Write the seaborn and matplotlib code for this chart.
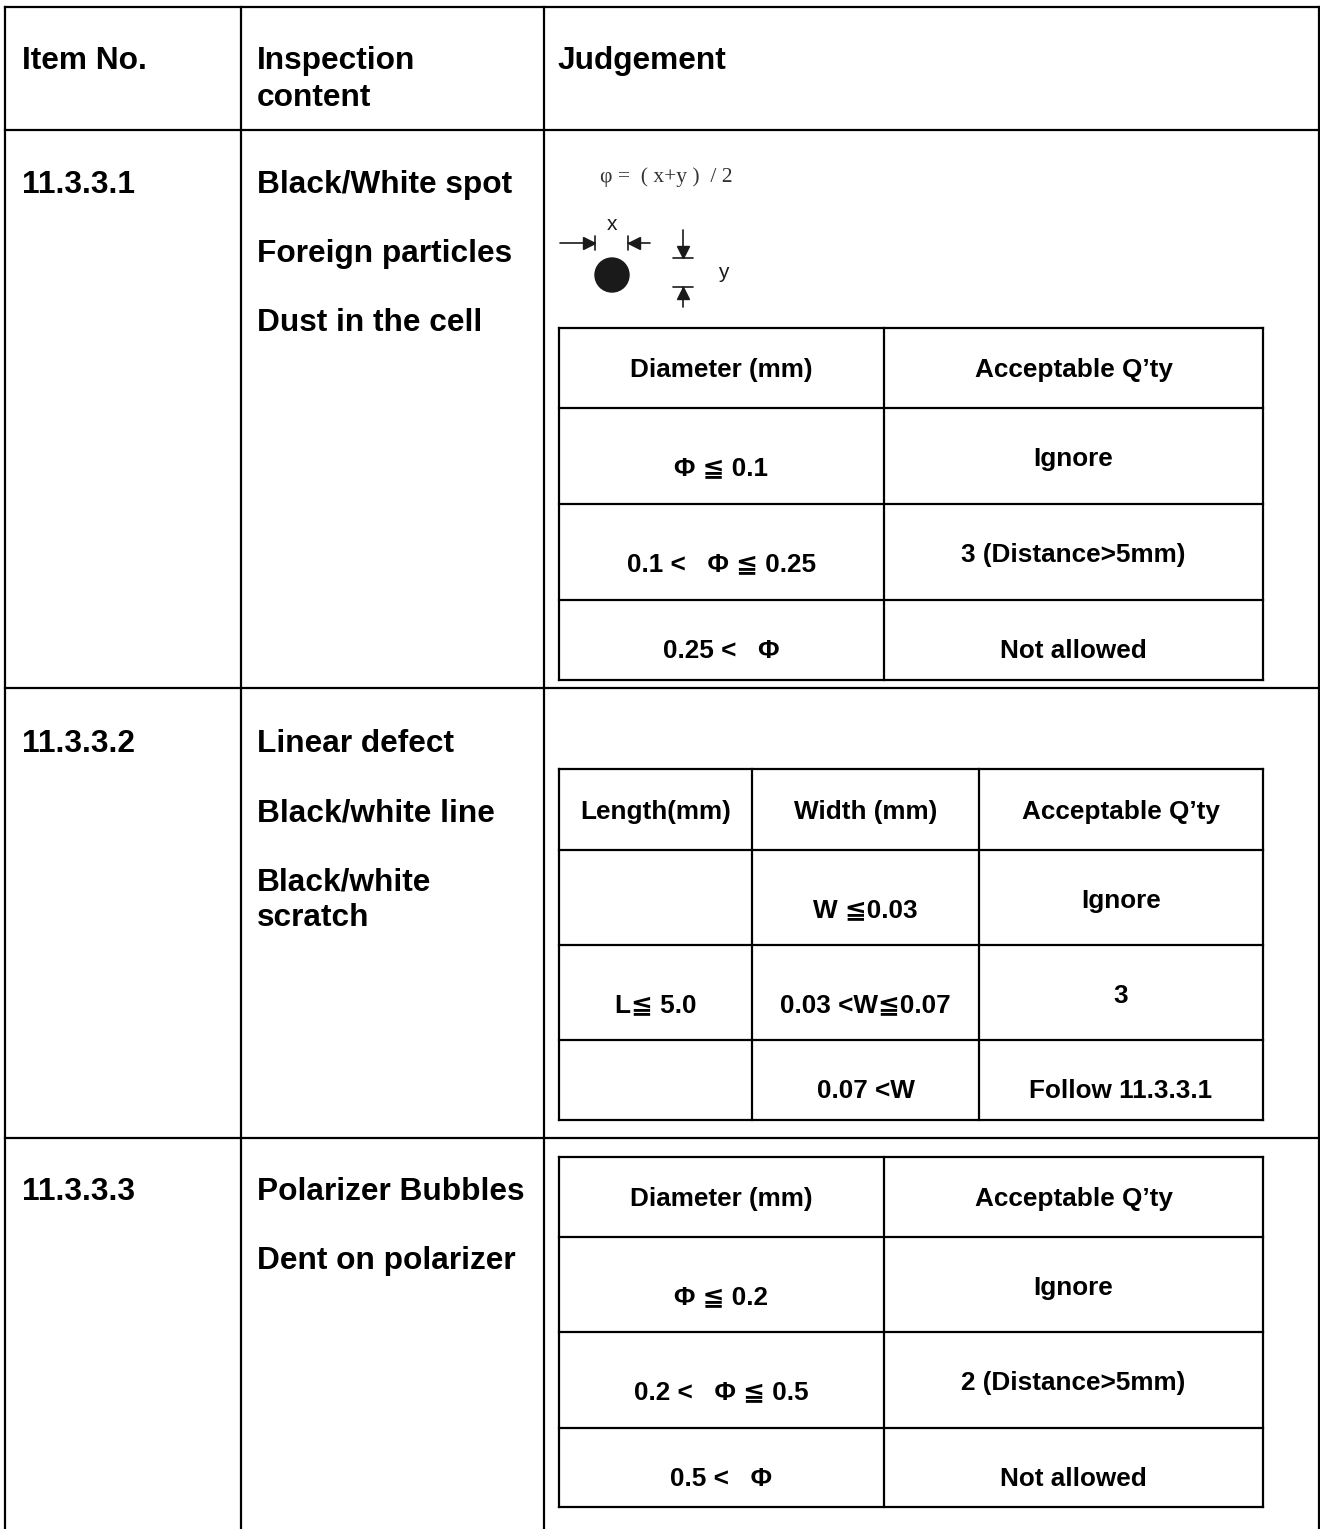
import matplotlib.pyplot as plt
import seaborn as sns
from matplotlib.patches import Circle

# table content
header_labels = ['Item No.', 'Inspection\ncontent', 'Judgement']
item_numbers = ['11.3.3.1', '11.3.3.2', '11.3.3.3']
inspection_lines = [
    ['Black/White spot', 'Foreign particles', 'Dust in the cell'],
    ['Linear defect', 'Black/white line', 'Black/white\nscratch'],
    ['Polarizer Bubbles', 'Dent on polarizer'],
]
formula = 'φ =  ( x+y )  / 2'

spot_header = ['Diameter (mm)', 'Acceptable Q’ty']
spot_diameter = ['Φ ≦ 0.1', '0.1 <   Φ ≦ 0.25', '0.25 <   Φ']
spot_qty = ['Ignore', '3 (Distance>5mm)', 'Not allowed']

line_header = ['Length(mm)', 'Width (mm)', 'Acceptable Q’ty']
line_length = ['', 'L≦ 5.0', '']
line_width = ['W ≦0.03', '0.03 <W≦0.07', '0.07 <W']
line_qty = ['Ignore', '3', 'Follow 11.3.3.1']

bubble_header = ['Diameter (mm)', 'Acceptable Q’ty']
bubble_diameter = ['Φ ≦ 0.2', '0.2 <   Φ ≦ 0.5', '0.5 <   Φ']
bubble_qty = ['Ignore', '2 (Distance>5mm)', 'Not allowed']

# layout (pixel grid of the page)
W, H = 1320, 1529
outer_x = [5, 241, 544, 1319]
outer_y = [7, 130, 688, 1138]
row_first_line = [182, 741, 1189]
line_step = 69
wrap_step = 36

sns.set_style('white')
plt.rcParams['font.family'] = ['Liberation Sans', 'DejaVu Sans']

fig = plt.figure(figsize=(W / 100, H / 100), dpi=100)
ax = fig.add_axes([0, 0, 1, 1])
ax.set_xlim(0, W)
ax.set_ylim(H, 0)
ax.axis('off')

LW = 1.6
BIG = 22.8
SMALL = 18.8


def put(x, y, s, size, ha='left'):
    # y is the visual centre of the capitals
    cap = size * 100 / 72 * 0.716
    ax.text(x, y + cap / 2, s, fontsize=size, fontweight='bold', ha=ha,
            va='baseline', color='black')


# outer frame
for y in outer_y:
    ax.plot([outer_x[0], outer_x[-1]], [y, y], color='black', lw=LW,
            solid_capstyle='projecting')
for x in outer_x:
    ax.plot([x, x], [outer_y[0], H], color='black', lw=LW,
            solid_capstyle='projecting')

# header row
put(22, 58, header_labels[0], BIG)
for k, part in enumerate(header_labels[1].split('\n')):
    put(257, 58 + k * 37, part, BIG)
put(557, 58, header_labels[2], BIG)

# left columns
for i, item in enumerate(item_numbers):
    y0 = row_first_line[i]
    put(22, y0, item, BIG)
    y = y0
    for entry in inspection_lines[i]:
        for k, part in enumerate(entry.split('\n')):
            put(257, y + k * wrap_step, part, BIG)
        y += line_step


def inner_table(x_edges, y_edges, header, columns):
    x0, x1 = x_edges[0], x_edges[-1]
    y0, y1 = y_edges[0], y_edges[-1]
    for y in y_edges:
        ax.plot([x0, x1], [y, y], color='black', lw=LW,
                solid_capstyle='projecting')
    for x in x_edges:
        ax.plot([x, x], [y0, y1], color='black', lw=LW,
                solid_capstyle='projecting')
    centres = [(a + b) / 2 for a, b in zip(x_edges[:-1], x_edges[1:])]
    mids = [(a + b) / 2 for a, b in zip(y_edges[:-1], y_edges[1:])]
    for c, h in zip(centres, header):
        put(c, mids[0], h, SMALL, ha='center')
    n_rows = len(columns[0])
    for j, col in enumerate(columns):
        last_col = j == len(columns) - 1
        for r, s in enumerate(col):
            if not s:
                continue
            if r == n_rows - 1:
                off = 9
            else:
                off = 1 if last_col else 10
            put(centres[j], mids[r + 1] + off, s, SMALL, ha='center')


inner_table([559, 884, 1263], [328, 408, 504, 600, 680],
            spot_header, [spot_diameter, spot_qty])
inner_table([559, 752, 979, 1263], [769, 850, 945, 1040, 1120],
            line_header, [line_length, line_width, line_qty])
inner_table([559, 884, 1263], [1157, 1237, 1332, 1428, 1507],
            bubble_header, [bubble_diameter, bubble_qty])

# spot size sketch
ink = '#1a1a1a'
ax.text(600, 177, formula, fontsize=15.5, family=['Liberation Serif', 'DejaVu Serif'],
        ha='left', va='center', color='#333333')
ax.text(612, 224, 'x', fontsize=15, ha='center', va='center', color=ink)
ax.text(723, 272, 'y', fontsize=15, ha='center', va='center', color=ink)
ax.add_patch(Circle((612, 275), 17, color=ink))
# horizontal arrows
ax.plot([560, 595], [243, 243], color=ink, lw=1.2)
ax.plot([589], [243], marker='>', ms=8, color=ink)
ax.plot([595, 595], [236, 250], color=ink, lw=1.2)
ax.plot([628, 650], [243, 243], color=ink, lw=1.2)
ax.plot([634], [243], marker='<', ms=8, color=ink)
ax.plot([628, 628], [236, 250], color=ink, lw=1.2)
# vertical arrows
ax.plot([683, 683], [230, 258], color=ink, lw=1.2)
ax.plot([683], [252], marker='v', ms=8, color=ink)
ax.plot([673, 693], [258, 258], color=ink, lw=1.2)
ax.plot([683, 683], [287, 307], color=ink, lw=1.2)
ax.plot([683], [293], marker='^', ms=8, color=ink)
ax.plot([673, 693], [287, 287], color=ink, lw=1.2)

fig.savefig('out.png', dpi=100, facecolor='white')
